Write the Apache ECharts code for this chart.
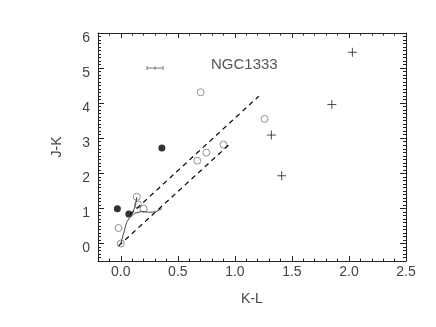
<!DOCTYPE html>
<html>
<head>
<meta charset="utf-8">
<script src="https://cdn.jsdelivr.net/npm/echarts@6/dist/echarts.min.js"></script>
<style>
  html, body { margin: 0; padding: 0; background: #fff; }
  #chart { width: 436px; height: 327px; }
</style>
</head>
<body>
<div id="chart"></div>
<script>
// filled circles
var klFilled = [-0.03, 0.07, 0.36];
var jkFilled = [0.99, 0.84, 2.72];
// open circles
var klOpen = [0.0, -0.02, 0.20, 0.15, 0.14, 0.67, 0.75, 0.90, 0.70, 1.26];
var jkOpen = [0.0, 0.44, 0.99, 1.11, 1.33, 2.36, 2.59, 2.82, 4.31, 3.55];
// crosses
var klPlus = [1.32, 1.41, 1.85, 2.03];
var jkPlus = [3.09, 1.93, 3.96, 5.45];
// reddening band
var bandUpper = [[0.08, 0.82], [1.21, 4.20]];
var bandLower = [[-0.02, -0.07], [0.97, 2.88]];
// intrinsic loci
var dwarfLocus = [[0.0, 0.0], [0.03, 0.35], [0.05, 0.6], [0.08, 0.75], [0.12, 0.86], [0.18, 0.91], [0.25, 0.89], [0.30, 0.90], [0.36, 0.99]];
var giantLocus = [[0.08, 0.75], [0.11, 0.92], [0.13, 1.12], [0.14, 1.32]];
// typical error bar: [kl, jk, errKL, errJK]
var errBar = [[0.30, 5.0, 0.07, 0.05]];

var xTicks = [0, 0.5, 1.0, 1.5, 2.0, 2.5];
var yTicks = [0, 1, 2, 3, 4, 5, 6];

function zip(a, b) {
  var out = [];
  for (var i = 0; i < a.length; i++) out.push([a[i], b[i]]);
  return out;
}

var font = 'Liberation Sans';
var ink = '#222';
var txt = '#444';

function minorAxis(pos, min, max, len) {
  return {
    type: 'value', position: pos, min: min, max: max, interval: 0.1,
    axisLine: { show: true, onZero: false, lineStyle: { color: ink, width: 1 } },
    axisTick: { show: true, inside: true, length: len, lineStyle: { color: ink } },
    axisLabel: { show: false },
    splitLine: { show: false }
  };
}
function majorAxis(pos, min, max, ticks, len, labels, fmt) {
  return {
    type: 'value', position: pos, min: min, max: max,
    axisLine: { show: false, onZero: false },
    axisTick: { show: true, inside: true, length: len, customValues: ticks, lineStyle: { color: ink } },
    axisLabel: labels ? {
      show: true, customValues: ticks, formatter: fmt,
      fontFamily: font, fontSize: 14, color: txt
    } : { show: false },
    splitLine: { show: false }
  };
}

var chart = echarts.init(document.getElementById('chart'));
var xa0 = majorAxis('bottom', -0.2, 2.5, xTicks, 5, true, function (v) { return v.toFixed(1); });
xa0.axisLabel.margin = 4;
xa0.name = 'K-L';
xa0.nameLocation = 'middle';
xa0.nameGap = 31;
xa0.nameTextStyle = { fontFamily: font, fontSize: 14, color: txt };
var ya0 = majorAxis('left', -0.5, 6, yTicks, 6, true, function (v) { return String(v); });
ya0.axisLabel.margin = 8;
ya0.axisLabel.verticalAlign = 'top';
ya0.axisLabel.padding = [-2, 0, 0, 0];
ya0.name = 'J-K';
ya0.nameLocation = 'middle';
ya0.nameGap = 34;
ya0.nameTextStyle = { fontFamily: font, fontSize: 14, color: txt };

var option = {
  animation: false,
  backgroundColor: '#fff',
  grid: { left: 98, right: 30, top: 33, bottom: 66, outerBoundsMode: 'none' },
  xAxis: [
    xa0,
    minorAxis('bottom', -0.2, 2.5, 2.5),
    minorAxis('top', -0.2, 2.5, 2.5),
    majorAxis('top', -0.2, 2.5, xTicks, 5, false)
  ],
  yAxis: [
    ya0,
    minorAxis('left', -0.5, 6, 3),
    minorAxis('right', -0.5, 6, 3),
    majorAxis('right', -0.5, 6, yTicks, 6, false)
  ],
  graphic: [{
    type: 'text', left: 211, top: 57,
    style: { text: 'NGC1333', fontFamily: font, fontSize: 15, fill: '#555' }
  }],
  series: [
    {
      type: 'line', data: bandUpper, showSymbol: false, silent: true,
      lineStyle: { color: '#000', width: 1.2, type: [5, 4] }
    },
    {
      type: 'line', data: bandLower, showSymbol: false, silent: true,
      lineStyle: { color: '#000', width: 1.2, type: [5, 4] }
    },
    {
      type: 'line', data: dwarfLocus, showSymbol: false, silent: true,
      lineStyle: { color: '#444', width: 1 }
    },
    {
      type: 'line', data: giantLocus, showSymbol: false, silent: true,
      lineStyle: { color: '#444', width: 1 }
    },
    {
      type: 'scatter', data: zip(klOpen, jkOpen), symbol: 'circle', symbolSize: 7,
      itemStyle: { color: '#fff', borderColor: '#777', borderWidth: 1 }
    },
    {
      type: 'scatter', data: zip(klFilled, jkFilled), symbol: 'circle', symbolSize: 7,
      itemStyle: { color: '#000' }
    },
    {
      type: 'scatter', data: zip(klPlus, jkPlus),
      symbol: 'path://M0,5L10,5M5,0L5,10', symbolSize: 9,
      itemStyle: { color: 'none', borderColor: '#222', borderWidth: 1 }
    },
    {
      type: 'custom', data: errBar,
      renderItem: function (params, api) {
        var x = api.value(0), y = api.value(1), ex = api.value(2), ey = api.value(3);
        var l = api.coord([x - ex, y]);
        var r = api.coord([x + ex, y]);
        var t = api.coord([x, y + ey]);
        var b = api.coord([x, y - ey]);
        var st = { stroke: '#777', lineWidth: 1 };
        return {
          type: 'group', children: [
            { type: 'line', shape: { x1: l[0], y1: l[1], x2: r[0], y2: r[1] }, style: st },
            { type: 'line', shape: { x1: l[0], y1: l[1] - 2, x2: l[0], y2: l[1] + 2 }, style: st },
            { type: 'line', shape: { x1: r[0], y1: r[1] - 2, x2: r[0], y2: r[1] + 2 }, style: st },
            { type: 'line', shape: { x1: t[0], y1: t[1], x2: b[0], y2: b[1] }, style: st }
          ]
        };
      }
    }
  ]
};
chart.setOption(option);
</script>
</body>
</html>
